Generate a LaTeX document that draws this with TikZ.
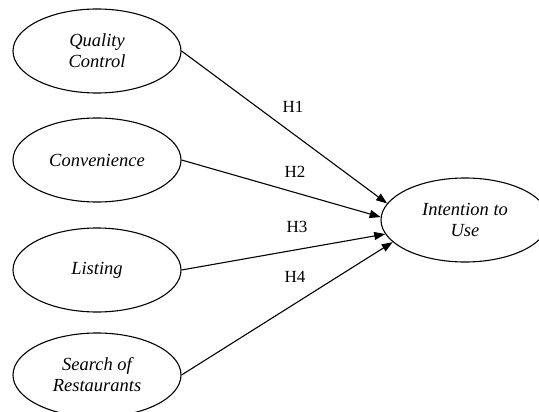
\documentclass[tikz,border=0pt]{standalone}
\usepackage{fontspec}
\setmainfont{Liberation Serif}
\usetikzlibrary{shapes.geometric,arrows.meta}
\tikzset{construct/.style={ellipse, draw, line width=1.1pt, inner sep=0pt,
    minimum width=168pt, minimum height=84pt, align=center,
    font=\fontsize{18.5}{21}\selectfont\itshape},
  hlabel/.style={font=\fontsize{17}{20}\selectfont},
  path/.style={draw, line width=1.1pt, -{Triangle[length=11pt,width=8pt]}}}
\begin{document}
\begin{tikzpicture}[x=1pt, y=-1pt]
    \useasboundingbox (0,0) rectangle (539,412);
    \node[construct] (quality) at (97,51) {Quality\\Control};
    \node[construct] (convenience) at (97,160) {Convenience};
    \node[construct] (listing) at (97,270) {Listing};
    \node[construct] (search) at (97,375) {Search of\\Restaurants};

    \node[construct] (intention) at (465,220) {Intention to\\Use};

    \node[hlabel] (h1) at (293,107) {H1};
    \node[hlabel] (h2) at (295,172) {H2};
    \node[hlabel] (h3) at (297,227) {H3};
    \node[hlabel] (h4) at (295,277) {H4};

    \path[path] (quality.east) -- (intention.168);
    \path[path] (convenience.east) -- (intention.178);
    \path[path] (listing.east) -- (intention.190);
    \path[path] (search.east) -- (intention.197);
\end{tikzpicture}
\end{document}
